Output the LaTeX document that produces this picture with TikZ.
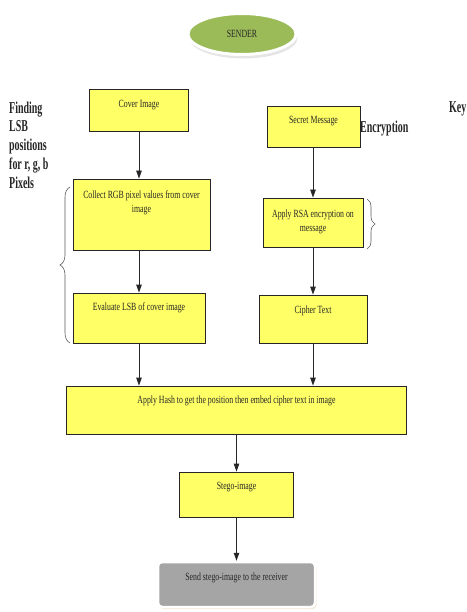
\documentclass[tikz,border=0pt]{standalone}
\usepackage{fontspec}
\newfontfamily\boxfont{Liberation Serif}[FakeStretch=0.71]
\newfontfamily\sidefont{Liberation Serif}[FakeStretch=0.60]
\definecolor{flowYellow}{HTML}{FFFF66}
\definecolor{flowGreen}{HTML}{9BBB59}
\definecolor{flowGrey}{HTML}{A5A5A5}
\definecolor{flowBlack}{HTML}{262626}
\definecolor{flowTan}{HTML}{E6C8AA}
\usetikzlibrary{arrows.meta, positioning, shapes.geometric, decorations.pathreplacing, shadows}
\tikzset{
    proc node/.style={rectangle, draw=flowBlack, fill=flowYellow, line width=0.8pt, inner sep=0pt},
    proc text/.style={align=center, inner sep=0pt, text=flowBlack, font=\boxfont\fontsize{11}{14.5}\selectfont},
    sender node/.style={ellipse, draw=white, line width=3pt, fill=flowGreen, inner sep=0pt,
        minimum width=108pt, minimum height=41pt, text=flowBlack, font=\boxfont\fontsize{11}{13}\selectfont,
        drop shadow={shadow xshift=1.5pt, shadow yshift=-4pt, fill=gray!40}},
    end node/.style={rectangle, rounded corners=4pt, draw=white, line width=2.5pt, fill=flowGrey, inner sep=0pt,
        drop shadow={shadow xshift=1.5pt, shadow yshift=-2pt, fill=flowTan}},
    side text/.style={align=left, inner sep=0pt, text=flowBlack, font=\sidefont\bfseries\fontsize{16.6}{18.75}\selectfont},
    arrow style/.style={-{Triangle[length=8pt, width=5.5pt]}, line width=0.8pt, flowBlack},
    brace line/.style={decorate, line width=0.6pt, draw=gray!70!black},
}
\begin{document}
\begin{tikzpicture}[x=1pt, y=-1pt]
    \useasboundingbox (0,0) rectangle (466,612);
    % sender
    \node[sender node] (sender) at (242,34) {SENDER};
    % left column
    \node[proc node, minimum width=99pt, minimum height=42pt] (cover) at (139,110) {};
    \node[proc text, below=11pt of cover.north] (covertext) {Cover Image};
    \node[proc node, minimum width=137pt, minimum height=71pt] (collect) at (141.5,214.5) {};
    \node[proc text, below=11.5pt of collect.north] (collecttext) {Collect RGB pixel values from cover\\image};
    \node[proc node, minimum width=132pt, minimum height=50pt] (evaluate) at (139,318) {};
    \node[proc text, below=10pt of evaluate.north] (evaluatetext) {Evaluate LSB of cover image};
    % right column
    \node[proc node, minimum width=93pt, minimum height=41pt] (secret) at (313.5,126.5) {};
    \node[proc text, below=10.5pt of secret.north] (secrettext) {Secret Message};
    \node[proc node, minimum width=100pt, minimum height=49pt] (rsa) at (313,222.5) {};
    \node[proc text, below=12pt of rsa.north] (rsatext) {Apply RSA encryption on\\message};
    \node[proc node, minimum width=108pt, minimum height=48pt] (cipher) at (313,319) {};
    \node[proc text, below=11pt of cipher.north] (ciphertext) {Cipher Text};
    % merge and output
    \node[proc node, minimum width=340pt, minimum height=48pt] (hash) at (236.5,410) {};
    \node[proc text, below=10pt of hash.north] (hashtext) {Apply Hash to get the position then embed cipher text in image};
    \node[proc node, minimum width=114pt, minimum height=45pt] (stego) at (236.5,494.5) {};
    \node[proc text, below=10pt of stego.north] (stegotext) {Stego-image};
    \node[end node, minimum width=157pt, minimum height=45pt] (send) at (236.5,584.5) {};
    \node[proc text, below=12pt of send.north] (sendtext) {Send stego-image to the receiver};
    % side labels
    \node[side text, anchor=north west] (finding) at (9,101.5) {Finding\\LSB\\positions\\for r, g, b\\Pixels};
    \node[side text, anchor=base west] (encryption) at (360,132.7) {Encryption};
    \node[side text, anchor=base west] (key) at (449,113) {Key};
    % braces
    \coordinate (lbracetop) at (70,187);
    \coordinate (lbracebot) at (70,343);
    \coordinate (rbracetop) at (367,199);
    \coordinate (rbracebot) at (367,249);
    \draw[brace line, decoration={brace, amplitude=10pt}] (lbracebot) -- (lbracetop);
    \draw[brace line, decoration={brace, amplitude=8pt}] (rbracetop) -- (rbracebot);
    % arrows
    \draw[arrow style] (cover.south) -- (cover.south |- collect.north);
    \draw[arrow style] (collect.south -| cover.south) -- (evaluate.north -| cover.south);
    \draw[arrow style] (evaluate.south) -- (evaluate.south |- hash.north);
    \draw[arrow style] (secret.south -| rsa.north) -- (rsa.north);
    \draw[arrow style] (rsa.south) -- (cipher.north);
    \draw[arrow style] (cipher.south) -- (cipher.south |- hash.north);
    \draw[arrow style] (hash.south) -- (stego.north);
    \draw[arrow style] (stego.south) -- (send.north);
\end{tikzpicture}
\end{document}
